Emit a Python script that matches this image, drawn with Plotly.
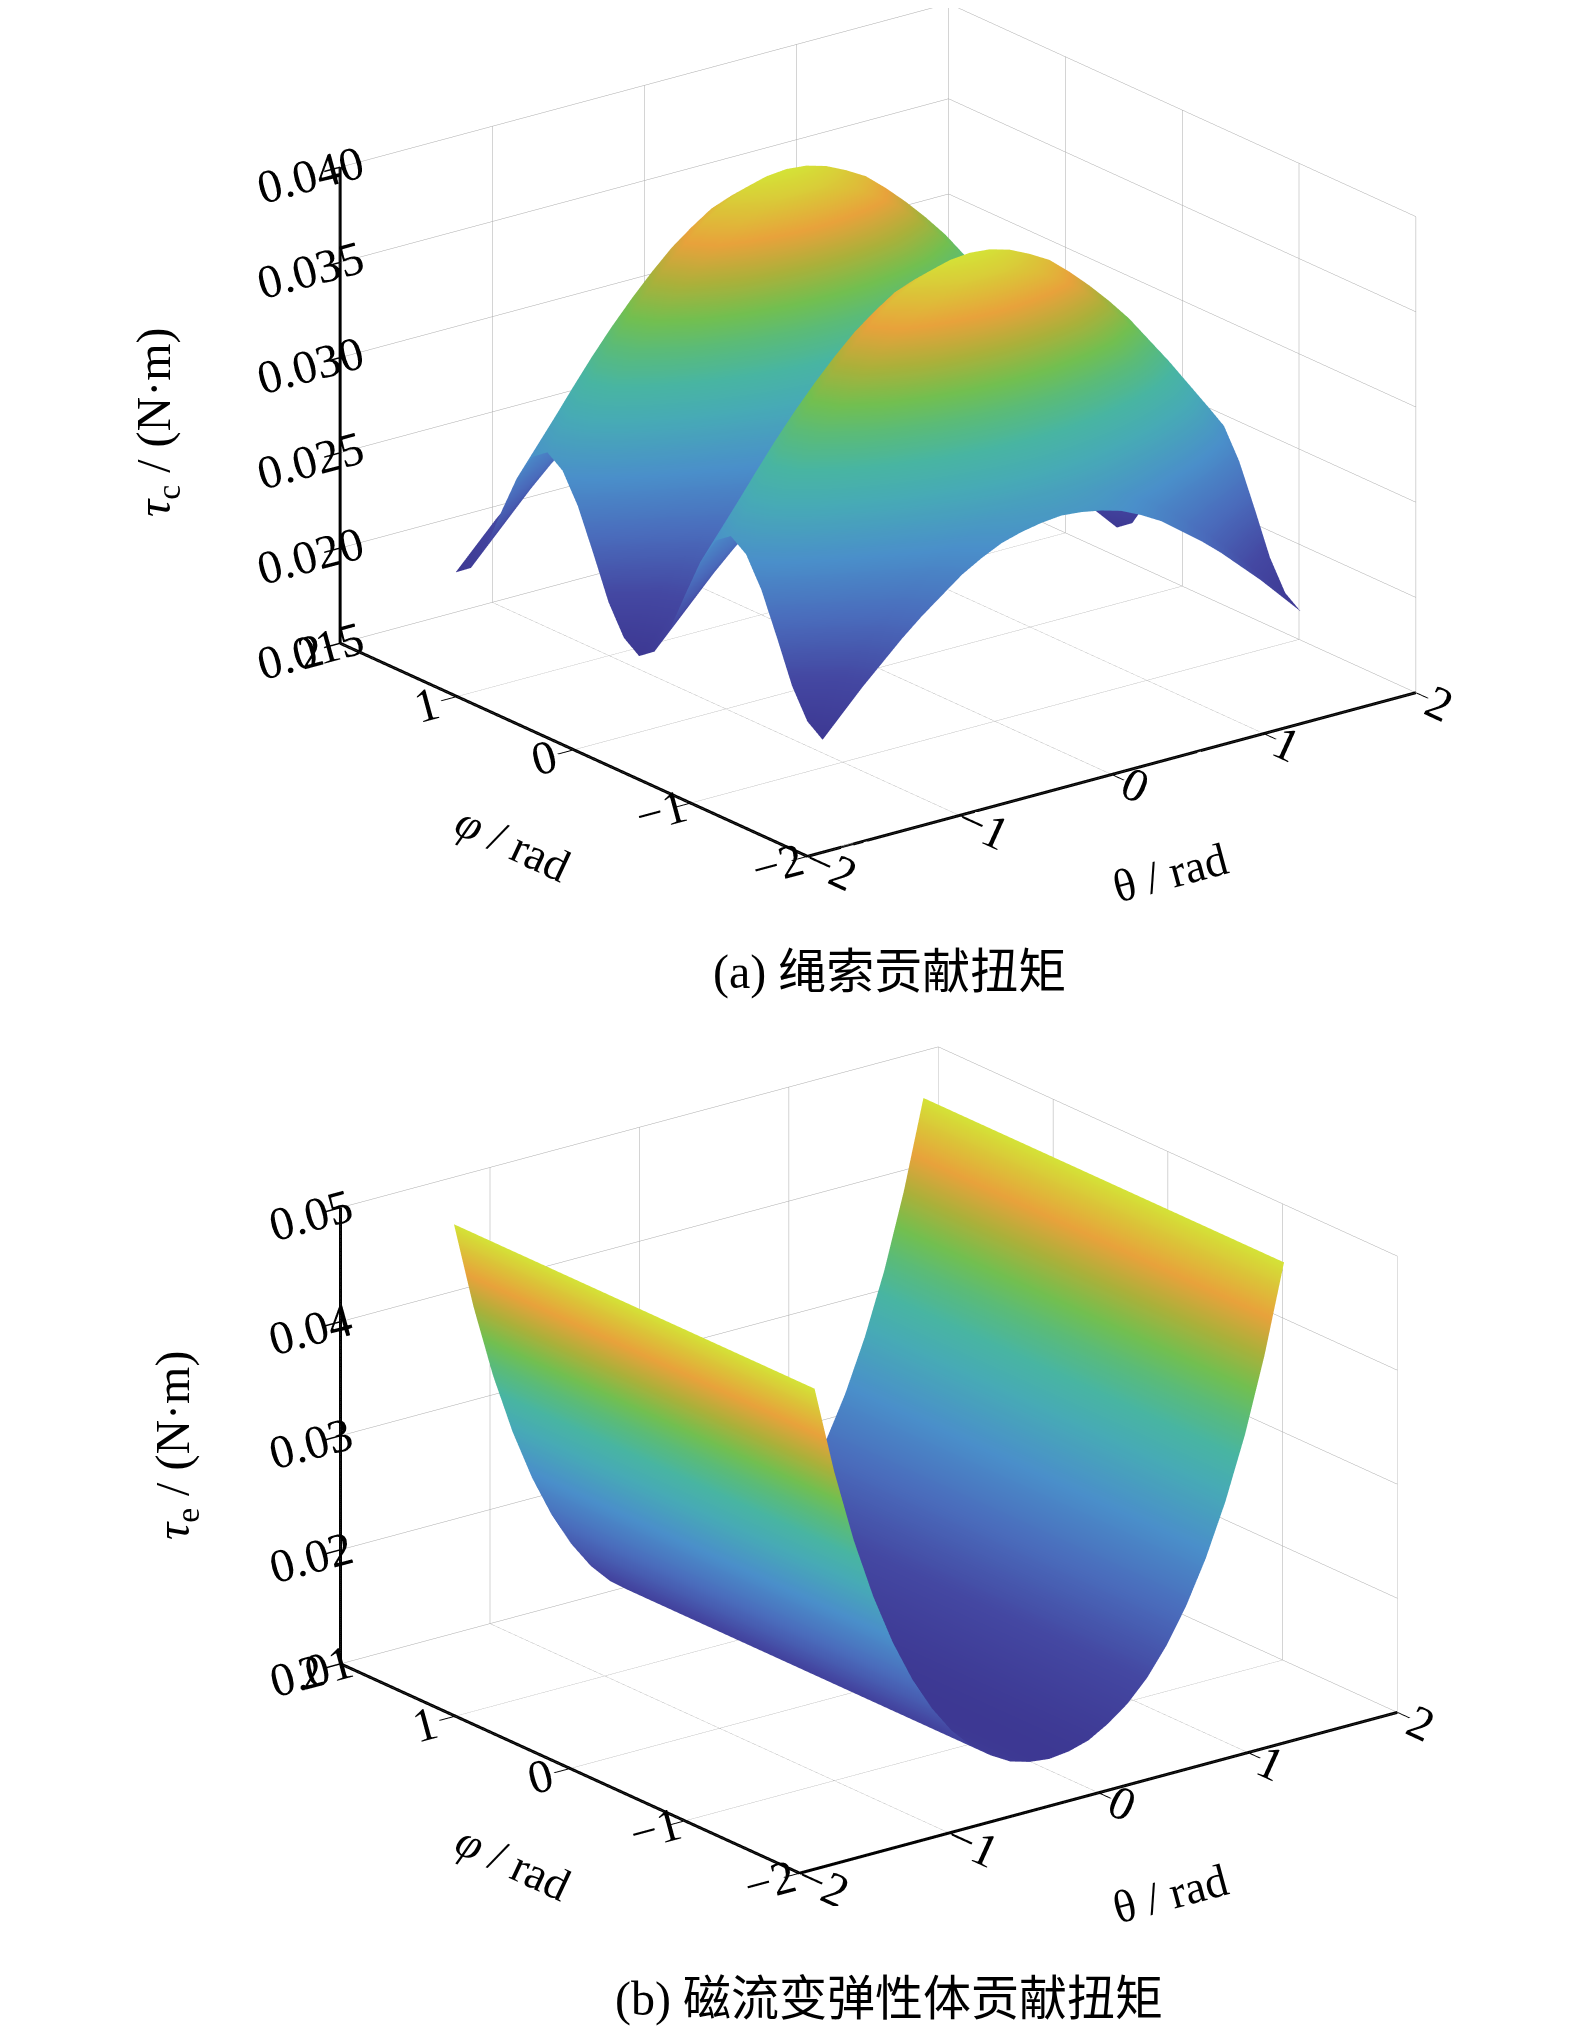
import plotly.graph_objects as go

# sample points (rad), 7.5 deg steps over [-pi/2, pi/2]
theta_c = [-1.5708, -1.4399, -1.3090, -1.1781, -1.0472, -0.9163, -0.7854,
           -0.6545, -0.5236, -0.3927, -0.2618, -0.1309, 0.0, 0.1309, 0.2618,
           0.3927, 0.5236, 0.6545, 0.7854, 0.9163, 1.0472, 1.1781, 1.3090,
           1.4399, 1.5708]
phi_c = list(theta_c)

# tau_c (N*m) profiles along theta at several phi
r0 = [0.0190, 0.0201, 0.0212, 0.0222, 0.0232, 0.0241, 0.0249, 0.0257, 0.0263, 0.0268, 0.0271, 0.0273, 0.0274,
      0.0273, 0.0271, 0.0268, 0.0263, 0.0257, 0.0249, 0.0241, 0.0232, 0.0222, 0.0212, 0.0201, 0.0190]
r1 = [0.0196, 0.0207, 0.0218, 0.0229, 0.0239, 0.0248, 0.0257, 0.0264, 0.0270, 0.0275, 0.0279, 0.0281, 0.0282,
      0.0281, 0.0279, 0.0275, 0.0270, 0.0264, 0.0257, 0.0248, 0.0239, 0.0229, 0.0218, 0.0207, 0.0196]
r2 = [0.0211, 0.0223, 0.0235, 0.0246, 0.0257, 0.0267, 0.0276, 0.0284, 0.0291, 0.0296, 0.0300, 0.0302, 0.0303,
      0.0302, 0.0300, 0.0296, 0.0291, 0.0284, 0.0276, 0.0267, 0.0257, 0.0246, 0.0235, 0.0223, 0.0211]
r3 = [0.0233, 0.0245, 0.0258, 0.0271, 0.0282, 0.0293, 0.0303, 0.0311, 0.0319, 0.0324, 0.0329, 0.0331, 0.0332,
      0.0331, 0.0329, 0.0324, 0.0319, 0.0311, 0.0303, 0.0293, 0.0282, 0.0271, 0.0258, 0.0245, 0.0233]
r4 = [0.0254, 0.0268, 0.0282, 0.0295, 0.0307, 0.0319, 0.0330, 0.0339, 0.0347, 0.0353, 0.0357, 0.0360, 0.0361,
      0.0360, 0.0357, 0.0353, 0.0347, 0.0339, 0.0330, 0.0319, 0.0307, 0.0295, 0.0282, 0.0268, 0.0254]
r5 = [0.0269, 0.0284, 0.0299, 0.0313, 0.0326, 0.0338, 0.0349, 0.0359, 0.0367, 0.0374, 0.0378, 0.0381, 0.0382,
      0.0381, 0.0378, 0.0374, 0.0367, 0.0359, 0.0349, 0.0338, 0.0326, 0.0313, 0.0299, 0.0284, 0.0269]
r6 = [0.0275, 0.0290, 0.0305, 0.0319, 0.0333, 0.0345, 0.0356, 0.0366, 0.0375, 0.0381, 0.0386, 0.0389, 0.0390,
      0.0389, 0.0386, 0.0381, 0.0375, 0.0366, 0.0356, 0.0345, 0.0333, 0.0319, 0.0305, 0.0290, 0.0275]

# one row per phi value (ridges near phi = +-pi/4, valleys at 0 and +-pi/2)
tau_c = [r0, r1, r2, r3, r4, r5, r6, r5, r4, r3, r2, r1, r0,
         r1, r2, r3, r4, r5, r6, r5, r4, r3, r2, r1, r0]

# tau_e only changes with theta
theta_e = list(theta_c)
phi_e = [-1.5708, 0.0, 1.5708]
tau_e = [0.0490, 0.0413, 0.0348, 0.0294, 0.0249, 0.0212, 0.0182, 0.0158,
         0.0140, 0.0127, 0.0117, 0.0112, 0.0110, 0.0112, 0.0117, 0.0127,
         0.0140, 0.0158, 0.0182, 0.0212, 0.0249, 0.0294, 0.0348, 0.0413,
         0.0490]

xy_range = [-2, 2]
zc_range = [0.015, 0.040]
ze_range = [0.01, 0.05]

# parula as it looks in the print
cmap = [
    [0.00, "#3d3893"], [0.12, "#4448a2"], [0.25, "#4a6cbc"], [0.38, "#4a8fca"],
    [0.50, "#47aab6"], [0.58, "#48b5a2"], [0.66, "#5bbb78"], [0.72, "#72bf50"],
    [0.80, "#acb03a"], [0.88, "#e8a23b"], [0.94, "#dcc238"], [1.00, "#d4e237"],
]

SERIF = "Liberation Serif, Times New Roman, serif"
CJK = "Liberation Serif, Noto Sans CJK SC, serif"
flat = dict(ambient=1.0, diffuse=0.0, specular=0.0, roughness=1.0, fresnel=0.0)

fig = go.Figure()
fig.add_trace(go.Surface(x=theta_c, y=phi_c, z=tau_c, colorscale=cmap,
                         showscale=False, lighting=flat, hoverinfo="skip",
                         scene="scene"))
fig.add_trace(go.Surface(x=theta_e, y=phi_e, z=[tau_e, tau_e, tau_e],
                         colorscale=cmap, showscale=False, lighting=flat,
                         hoverinfo="skip", scene="scene2"))

# heavier black axis lines, like MATLAB's box-less axes
for sc, zr in (("scene", zc_range), ("scene2", ze_range)):
    lo, hi = xy_range
    fig.add_trace(go.Scatter3d(
        x=[lo, hi, None, lo, lo, None, lo, lo],
        y=[lo, lo, None, lo, hi, None, hi, hi],
        z=[zr[0], zr[0], None, zr[0], zr[0], None, zr[0], zr[1]],
        mode="lines", line=dict(color="black", width=6),
        hoverinfo="skip", showlegend=False, scene=sc))


def ax(rng, dtick, fsize, fmt=None):
    d = dict(range=rng, dtick=dtick, tick0=rng[0], autorange=False,
             title=dict(text=""), showgrid=True, gridcolor="#a9a9a9",
             gridwidth=1, zeroline=False, showline=True, linecolor="black",
             linewidth=4, ticks="inside", ticklen=20, tickcolor="black",
             tickwidth=3, showbackground=False, showspikes=False,
             tickfont=dict(family=SERIF, size=fsize, color="black"))
    if fmt:
        d["tickformat"] = fmt
    return d


def cam(dist, dx=0.0, dy=0.0, dz=0.0):
    # MATLAB-like view: azimuth -37.5 deg, elevation about 20.5 deg
    return dict(eye=dict(x=-0.5705 * dist + dx, y=-0.7428 * dist + dy,
                         z=0.3502 * dist + dz),
                center=dict(x=dx, y=dy, z=dz),
                projection=dict(type="orthographic"))


fig.update_layout(
    width=1575, height=2027,
    paper_bgcolor="white",
    margin=dict(l=0, r=0, t=0, b=0),
    showlegend=False,
    scene=dict(
        domain=dict(x=[0.115, 1.0], y=[0.555, 1.0]),
        xaxis=ax(xy_range, 1, 24), yaxis=ax(xy_range, 1, 24),
        zaxis=ax(zc_range, 0.005, 24, ".3f"),
        aspectmode="manual", aspectratio=dict(x=1.701, y=1.701, z=1.127),
        camera=cam(1.4, 0.0140, -0.0108, -0.0688),
    ),
    scene2=dict(
        domain=dict(x=[0.0985, 0.995], y=[0.0638, 0.5038]),
        xaxis=ax(xy_range, 1, 24), yaxis=ax(xy_range, 1, 24),
        zaxis=ax(ze_range, 0.01, 24, ".2f"),
        aspectmode="manual", aspectratio=dict(x=1.69, y=1.69, z=1.092),
        camera=cam(1.4),
    ),
    annotations=[
        dict(text="<i>τ</i><sub>c</sub> / (N·m)", x=0.0946, y=0.7958,
             textangle=-90, font=dict(family=SERIF, size=48)),
        dict(text="<i>φ</i> / rad", x=0.3206, y=0.588, textangle=25,
             font=dict(family=SERIF, size=46)),
        dict(text="θ / rad", x=0.7384, y=0.5733, textangle=-15,
             font=dict(family=SERIF, size=46)),
        dict(text="(a) 绳索贡献扭矩", x=0.5594, y=0.5245,
             font=dict(family=CJK, size=48)),
        dict(text="<i>τ</i><sub>e</sub> / (N·m)", x=0.1067, y=0.2906,
             textangle=-90, font=dict(family=SERIF, size=48)),
        dict(text="<i>φ</i> / rad", x=0.3206, y=0.0849, textangle=25,
             font=dict(family=SERIF, size=46)),
        dict(text="θ / rad", x=0.7384, y=0.070, textangle=-15,
             font=dict(family=SERIF, size=46)),
        dict(text="(b) 磁流变弹性体贡献扭矩", x=0.5594, y=0.0178,
             font=dict(family=CJK, size=48)),
    ],
)
for a in fig.layout.annotations:
    a.update(xref="paper", yref="paper", showarrow=False,
             xanchor="center", yanchor="middle", font_color="black")

fig.write_html("out.html")
